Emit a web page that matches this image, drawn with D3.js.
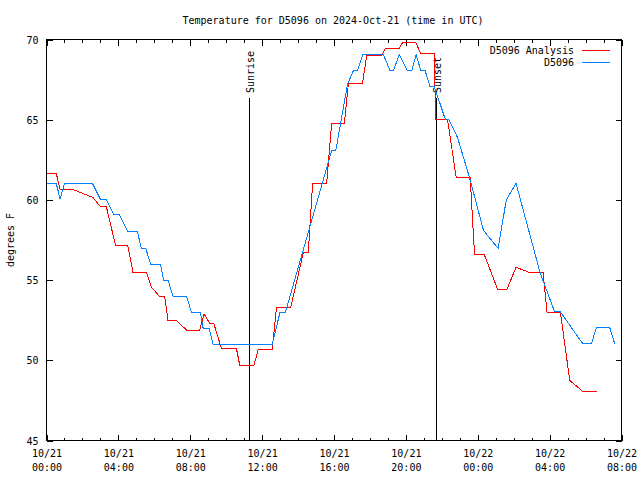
<!DOCTYPE html>
<html><head><meta charset="utf-8">
<script src="https://cdn.jsdelivr.net/npm/d3@7"></script>
<style>
body{margin:0;background:#fff;}
svg{display:block;}
text{font-family:"DejaVu Sans Mono","Liberation Mono",monospace;font-size:10px;fill:#000;}
</style></head><body>
<svg id="c" width="640" height="480"></svg>
<script>
// ---- data (hours since 2024-10-21 00:00 UTC, degrees F) ----
const title = "Temperature for D5096 on 2024-Oct-21 (time in UTC)";
const seriesNames = ["D5096 Analysis", "D5096"];
const analysisHours = [0,0.54,0.76,1.52,2.58,3.0,3.33,3.85,4.53,4.81,5.56,5.83,6.3,6.58,6.76,7.23,7.79,8.53,8.77,9.09,9.31,9.74,10.57,10.76,11.54,11.78,12.56,12.8,13.59,14.29,14.57,14.81,15.59,15.87,16.58,16.8,17.58,17.82,18.66,18.85,19.62,19.83,20.55,20.83,21.59,21.65,22.32,22.8,23.58,23.82,24.36,25.1,25.63,26.13,26.83,27.63,27.86,28.6,29.12,29.84,30.64];
const analysisTemps = [61.67,61.67,60.63,60.63,60.15,59.58,59.58,57.13,57.13,55.5,55.5,54.58,53.96,53.96,52.5,52.5,51.88,51.88,52.9,52.29,52.29,50.73,50.73,49.67,49.67,50.67,50.67,53.3,53.3,56.7,56.7,61.04,61.04,64.79,64.79,67.23,67.23,69.0,69.0,69.42,69.42,69.83,69.83,69.1,69.1,65.0,65.0,61.4,61.4,56.6,56.6,54.44,54.44,55.8,55.5,55.5,52.98,52.98,48.75,48.06,48.06];
const obsHours = [0,0.54,0.76,1.0,2.55,3.0,3.33,3.75,4.07,4.5,5.05,5.28,5.52,5.8,6.34,6.52,6.76,7.04,7.79,8.07,8.57,8.72,9.05,9.27,12.56,13.0,13.3,15.87,16.1,16.75,17.08,17.3,17.6,18.75,19.12,19.3,19.64,20.09,20.33,20.57,20.83,21.07,21.35,21.59,22.19,22.38,22.87,23.54,24.32,25.13,25.59,26.13,27.48,28.28,28.6,29.84,30.33,30.6,31.35,31.63];
const obsTemps = [61.04,61.04,60.04,61.04,61.04,60.04,60.04,59.06,59.06,58.06,58.06,56.98,56.98,55.98,55.98,55.0,55.0,54.0,54.0,52.98,52.98,51.98,51.98,51.0,51.0,53.0,53.0,63.08,63.08,67.2,68.06,68.06,69.06,69.06,68.06,68.06,69.06,68.06,68.06,69.06,68.06,68.06,67.04,67.04,65.04,65.04,63.9,61.4,58.1,56.98,60.0,61.04,55.42,53.02,53.02,51.04,51.04,52.02,52.02,51.0];
const sunEvents = ["Sunrise", "Sunset"];
const sunHours = [11.28, 21.70];
const yTicks = [45,50,55,60,65,70];
const xTickHours = [0,4,8,12,16,20,24,28,32];
const xTickLabels = [["10/21","00:00"],["10/21","04:00"],["10/21","08:00"],["10/21","12:00"],["10/21","16:00"],["10/21","20:00"],["10/22","00:00"],["10/22","04:00"],["10/22","08:00"]];
const colors = ["#ff0000", "#0080ff"];

// ---- chart ----
const t0 = Date.UTC(2024, 9, 21, 0, 0);
const toDate = h => new Date(t0 + h * 3600e3);
const L = 46.5, R = 621.5, T = 39.5, B = 440.5;
const svg = d3.select("#c");
const x = d3.scaleUtc().domain([toDate(0), toDate(32)]).range([L, R]);
const y = d3.scaleLinear().domain([45, 70]).range([B, T]);

svg.append("text").attr("x", 333).attr("y", 24).attr("text-anchor", "middle").text(title);

// minor ticks (every hour)
const minor = d3.range(0, 33).map(toDate);
const major = xTickHours.map(toDate);
svg.append("g").attr("transform", `translate(0,${B})`)
  .call(d3.axisBottom(x).tickValues(minor).tickSize(-3).tickFormat(""))
  .call(g => g.select(".domain").remove());
svg.append("g").attr("transform", `translate(0,${T})`)
  .call(d3.axisTop(x).tickValues(minor).tickSize(-3).tickFormat(""))
  .call(g => g.select(".domain").remove());
svg.append("g").attr("transform", `translate(0,${T})`)
  .call(d3.axisTop(x).tickValues(major).tickSize(-6).tickFormat(""))
  .call(g => g.select(".domain").remove());
const xb = svg.append("g").attr("transform", `translate(0,${B})`)
  .call(d3.axisBottom(x).tickValues(major).tickSize(-6).tickPadding(0).tickFormat(""))
  .call(g => g.select(".domain").remove());
xb.selectAll(".tick").each(function(d, i) {
  const t = d3.select(this).select("text").attr("y", 0).attr("dy", null)
    .style("font-family", null).style("font-size", null).attr("font-family", null).attr("font-size", null)
    .attr("fill", "#000");
  t.append("tspan").attr("x", 0).attr("y", 16.5).text(xTickLabels[i][0]);
  t.append("tspan").attr("x", 0).attr("y", 30.5).text(xTickLabels[i][1]);
});

const yl = svg.append("g").attr("transform", `translate(${L},0)`)
  .call(d3.axisLeft(y).tickValues(yTicks).tickSize(-6).tickPadding(8).tickFormat(d3.format("d")))
  .call(g => g.select(".domain").remove());
svg.append("g").attr("transform", `translate(${R},0)`)
  .call(d3.axisRight(y).tickValues(yTicks).tickSize(-6).tickFormat(""))
  .call(g => g.select(".domain").remove());
svg.selectAll(".tick line").attr("stroke", "#000").attr("shape-rendering", "crispEdges");
svg.selectAll("g text").attr("font-family", null).attr("font-size", null);
yl.selectAll("text").attr("fill", "#000").attr("dy", "0.35em");

// border
svg.append("rect").attr("x", L).attr("y", T).attr("width", R - L).attr("height", B - T)
  .attr("fill", "none").attr("stroke", "#000").attr("shape-rendering", "crispEdges");

// y label
svg.append("text").attr("transform", "translate(14,240) rotate(-90)")
  .attr("text-anchor", "middle").text("degrees F");

// sun events
sunEvents.forEach((name, i) => {
  const sx = Math.round(x(toDate(sunHours[i]))) + 0.5;
  svg.append("line").attr("x1", sx).attr("x2", sx).attr("y1", 98).attr("y2", B)
    .attr("stroke", "#000").attr("shape-rendering", "crispEdges");
  svg.append("text").attr("transform", `translate(${sx + 4},93) rotate(-90)`)
    .attr("text-anchor", "start").text(name);
});

// series
const line = d3.line().x(d => x(toDate(d[0]))).y(d => y(d[1]));
const series = [
  d3.zip(analysisHours, analysisTemps),
  d3.zip(obsHours, obsTemps)
];
series.forEach((s, i) => {
  svg.append("path").datum(s).attr("d", line).attr("fill", "none")
    .attr("stroke", colors[i]).attr("stroke-width", 1).attr("shape-rendering", "crispEdges");
});

// legend
seriesNames.forEach((n, i) => {
  const ly = 50 + i * 12;
  svg.append("text").attr("x", 574).attr("y", ly).attr("dy", "0.35em")
    .attr("text-anchor", "end").text(n);
  svg.append("line").attr("x1", 582).attr("x2", 610).attr("y1", ly + 0.5).attr("y2", ly + 0.5)
    .attr("stroke", colors[i]).attr("shape-rendering", "crispEdges");
});
</script>
</body></html>
